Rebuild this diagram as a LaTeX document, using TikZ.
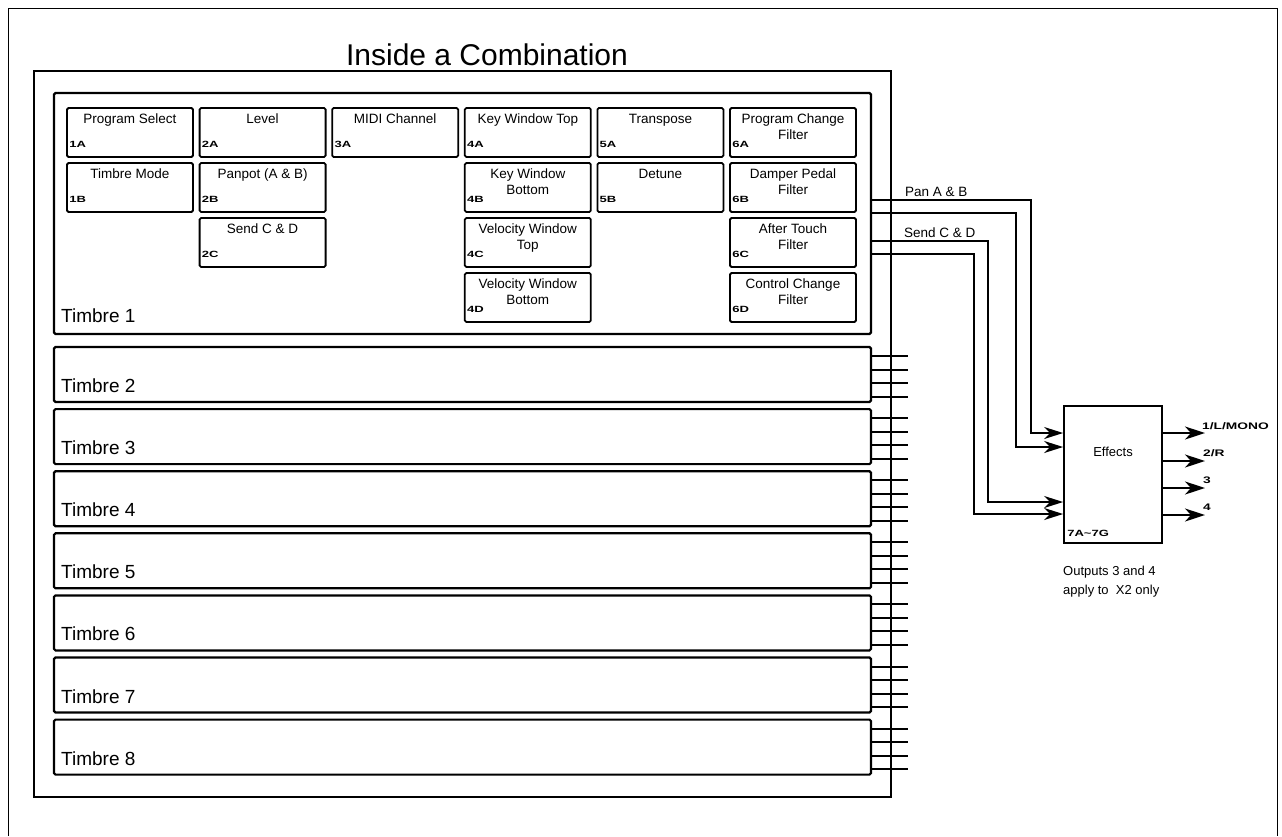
\documentclass[tikz,border=0pt]{standalone}
\usepackage{fontspec}
\setmainfont{Liberation Sans}
\newfontfamily\tagfont{Liberation Sans Bold}[FakeStretch=1.45]
\usepackage{tikz}
\usetikzlibrary{arrows.meta}

\tikzset{
  parbox/.style={draw, line width=1.8pt, rounded corners=1.5pt, inner sep=0pt,
    minimum width=126pt, minimum height=49pt},
  partext/.style={font=\fontsize{13.5}{16}\selectfont, inner sep=0pt, anchor=base},
  tagtext/.style={font=\tagfont\fontsize{9}{10}\selectfont, inner sep=0pt, anchor=base west},
  timbrebox/.style={draw, line width=2.2pt, rounded corners=1.5pt, inner sep=0pt,
    minimum width=817pt},
  timbretext/.style={font=\fontsize{19}{22}\selectfont, inner sep=0pt, anchor=base west},
  sig/.style={line width=2pt},
  intip/.style={-{Stealth[length=19pt,width=12pt,inset=6pt]}},
  outtip/.style={-{Stealth[length=20pt,width=13pt,inset=6pt]}},
  outtext/.style={font=\tagfont\fontsize{9.5}{11}\selectfont, inner sep=0pt, anchor=base west},
  plaintext/.style={font=\fontsize{13.5}{16}\selectfont, inner sep=0pt, anchor=base west}
}

\begin{document}
\begin{tikzpicture}[x=1pt, y=-1pt]
  \useasboundingbox (0,0) rectangle (1282,836);
  \draw[line width=0.8pt] (8,836) -- (8,8) -- (1277,8) -- (1277,836);

  \node[font=\fontsize{30}{36}\selectfont, inner sep=0pt, anchor=base] (title)
    at (487,65) {Inside a Combination};
  \node[draw, line width=2.6pt, inner sep=0pt, minimum width=857pt,
    minimum height=726pt] (combi) at (462.5,434) {};

  \node[timbrebox, minimum height=241pt] (t1) at (462.5,213.5) {};
  \node[timbretext] (l1) at (61,322) {Timbre 1};

  \foreach \col/\row/\code/\one/\two in {
    1/1/1A/{Program Select}/{},
    1/2/1B/{Timbre Mode}/{},
    2/1/2A/{Level}/{},
    2/2/2B/{Panpot (A \& B)}/{},
    2/3/2C/{Send C \& D}/{},
    3/1/3A/{MIDI Channel}/{},
    4/1/4A/{Key Window Top}/{},
    4/2/4B/{Key Window}/{Bottom},
    4/3/4C/{Velocity Window}/{Top},
    4/4/4D/{Velocity Window}/{Bottom},
    5/1/5A/{Transpose}/{},
    5/2/5B/{Detune}/{},
    6/1/6A/{Program Change}/{Filter},
    6/2/6B/{Damper Pedal}/{Filter},
    6/3/6C/{After Touch}/{Filter},
    6/4/6D/{Control Change}/{Filter}
  }{
    \node[parbox] (p\code) at ({130+132.6*(\col-1)},{132.5+55*(\row-1)}) {};
    \node[partext] at ([yshift=-16pt]p\code.north) {\one};
    \node[partext] at ([yshift=-32pt]p\code.north) {\two};
    \node[tagtext] at ([xshift=3pt,yshift=10pt]p\code.south west) {\code};
  }

  \foreach \k in {2,...,8}{
    \pgfmathsetmacro\ymid{374.5+62.1*(\k-2)}
    \node[timbrebox, minimum height=55pt] (t\k) at (462.5,\ymid) {};
    \node[timbretext] (l\k) at (61,\ymid+18) {Timbre \k};
    \foreach \s in {0,...,3}{
      \pgfmathsetmacro\ystub{round(\ymid-18.5+13.5*\s)}
      \draw[sig] (t\k.east |- 0,\ystub) -- (908,\ystub);
    }
  }

  \node[draw, line width=1.8pt, inner sep=0pt, minimum width=98pt,
    minimum height=137pt] (fx) at (1113,474.5) {};
  \node[font=\fontsize{13}{15}\selectfont, inner sep=0pt] (fxname) at (1113,452) {Effects};
  \node[tagtext] (fxcode) at ([xshift=4pt,yshift=7pt]fx.south west) {7A\textasciitilde 7G};

  \foreach \ya/\xv/\yb in {200/1031/433, 213/1016/447, 241/988/502, 254/974/514}
    \draw[sig, intip] (t1.east |- 0,\ya) -- (\xv,\ya) -- (\xv,\yb) -- (fx.west |- 0,\yb);
  \node[plaintext] (panlab) at (905,196) {Pan A \& B};
  \node[plaintext] (sendlab) at (904,237) {Send C \& D};

  \foreach \n/\yo in {1/433, 2/461, 3/488, 4/515}{
    \coordinate (o\n) at (1205,\yo);
    \draw[sig, outtip] (fx.east |- o\n) -- (o\n);
  }
  \node[outtext] (olab1) at ([xshift=-3pt,yshift=4pt]o1) {1/L/MONO};
  \node[outtext] (olab2) at ([xshift=-2pt,yshift=5pt]o2) {2/R};
  \node[outtext] (olab3) at ([xshift=-2pt,yshift=5pt]o3) {3};
  \node[outtext] (olab4) at ([xshift=-2pt,yshift=5pt]o4) {4};

  \node[plaintext, font=\fontsize{13}{15}\selectfont] (note1) at (1063,575) {Outputs 3 and 4};
  \node[plaintext, font=\fontsize{13}{15}\selectfont] (note2) at (1063,594) {apply to~ X2 only};
\end{tikzpicture}
\end{document}
